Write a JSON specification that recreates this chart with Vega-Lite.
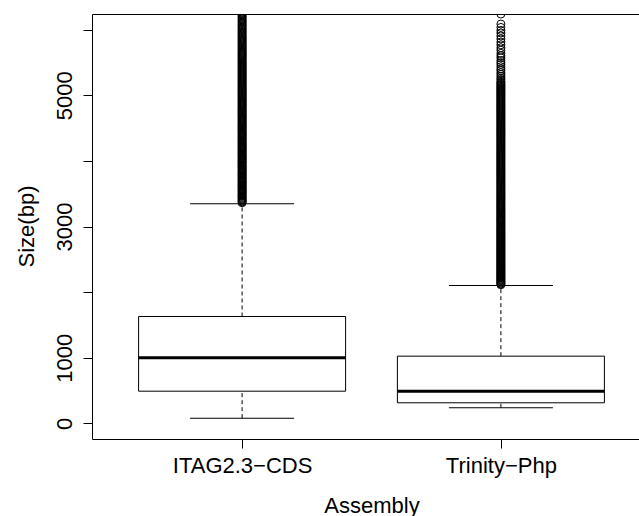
{
  "$schema": "https://vega.github.io/schema/vega-lite/v6.json",
  "autosize": "none",
  "width": 559,
  "height": 425,
  "padding": {"left": 92, "top": 14, "right": 0, "bottom": 77},
  "background": "white",
  "config": {
    "view": {"stroke": "black", "strokeWidth": 1},
    "font": "Liberation Sans",
    "axis": {
      "labelFont": "Liberation Sans",
      "titleFont": "Liberation Sans",
      "labelFontSize": 22,
      "titleFontSize": 22,
      "titleFontWeight": "normal",
      "labelColor": "black",
      "titleColor": "black",
      "tickColor": "black",
      "tickSize": 9,
      "domain": false,
      "grid": false,
      "labelFlush": false,
      "labelOverlap": false
    },
    "axisX": {"labelAngle": 0, "labelBaseline": "alphabetic", "labelPadding": 24, "titleBaseline": "alphabetic", "titleY": 73},
    "axisY": {"labelAngle": 270, "labelAlign": "center", "labelBaseline": "alphabetic", "labelPadding": 12, "titleAngle": 270, "titleAlign": "center", "titleBaseline": "alphabetic", "titleX": -59, "titleY": 212}
  },
  "datasets": {
    "stats": [
      {"g": "ITAG2.3−CDS", "lo": 78, "q1": 489, "med": 998, "q3": 1628, "hi": 3346},
      {"g": "Trinity−Php", "lo": 236, "q1": 312, "med": 489, "q3": 1023, "hi": 2100}
    ],
    "out": [
      {"g": "ITAG2.3−CDS", "v": [3362, 3375, 3388, 3401, 3417, 3430, 3444, 3459, 3471, 3486, 3500, 3513, 3528, 3540, 3556, 3569, 3583, 3597, 3610, 3625, 3638, 3652, 3667, 3680, 3694, 3708, 3722, 3736, 3749, 3764, 3778, 3791, 3806, 3819, 3833, 3848, 3861, 3875, 3890, 3903, 3917, 3931, 3945, 3960, 3973, 3987, 4001, 4015, 4030, 4043, 4057, 4072, 4085, 4100, 4113, 4128, 4142, 4155, 4170, 4184, 4198, 4212, 4226, 4240, 4255, 4268, 4283, 4297, 4310, 4325, 4339, 4353, 4367, 4381, 4396, 4410, 4424, 4438, 4452, 4466, 4481, 4495, 4509, 4523, 4538, 4552, 4566, 4580, 4595, 4609, 4623, 4638, 4652, 4666, 4680, 4695, 4709, 4723, 4738, 4752, 4766, 4781, 4795, 4810, 4825, 4839, 4853, 4868, 4882, 4897, 4911, 4926, 4940, 4955, 4970, 4984, 4999, 5013, 5028, 5043, 5057, 5072, 5087, 5101, 5116, 5131, 5146, 5161, 5175, 5190, 5205, 5220, 5235, 5250, 5265, 5280, 5296, 5311, 5326, 5341, 5356, 5372, 5387, 5402, 5418, 5433, 5449, 5464, 5480, 5495, 5511, 5527, 5542, 5558, 5574, 5590, 5606, 5622, 5638, 5654, 5670, 5686, 5702, 5719, 5735, 5751, 5768, 5784, 5801, 5817, 5834, 5851, 5868, 5885, 5902, 5919, 5936, 5954, 5971, 5989, 6006, 6024, 6042, 6060, 6078, 6096, 6115, 6133, 6152, 6171, 6190, 6209, 6228, 6248, 6268, 6290]},
      {"g": "Trinity−Php", "v": [2112, 2124, 2136, 2148, 2160, 2172, 2185, 2197, 2209, 2221, 2234, 2246, 2258, 2271, 2283, 2295, 2308, 2320, 2333, 2345, 2358, 2370, 2383, 2395, 2408, 2421, 2433, 2446, 2459, 2471, 2484, 2497, 2510, 2522, 2535, 2548, 2561, 2574, 2587, 2600, 2613, 2626, 2639, 2652, 2665, 2678, 2691, 2704, 2718, 2731, 2744, 2757, 2771, 2784, 2797, 2811, 2824, 2838, 2851, 2865, 2878, 2892, 2905, 2919, 2933, 2946, 2960, 2974, 2988, 3001, 3015, 3029, 3043, 3057, 3071, 3085, 3099, 3113, 3127, 3141, 3155, 3169, 3184, 3198, 3212, 3226, 3241, 3255, 3269, 3284, 3298, 3313, 3327, 3342, 3356, 3371, 3385, 3400, 3415, 3429, 3444, 3459, 3473, 3488, 3503, 3518, 3533, 3548, 3563, 3578, 3593, 3608, 3623, 3638, 3653, 3668, 3683, 3698, 3713, 3728, 3743, 3758, 3773, 3788, 3803, 3818, 3833, 3848, 3863, 3878, 3893, 3908, 3923, 3938, 3953, 3968, 3983, 3998, 4013, 4028, 4043, 4058, 4073, 4088, 4103, 4118, 4133, 4148, 4163, 4178, 4193, 4208, 4223, 4238, 4253, 4268, 4283, 4298, 4313, 4328, 4343, 4358, 4373, 4388, 4403, 4418, 4433, 4448, 4463, 4478, 4493, 4508, 4523, 4538, 4553, 4568, 4583, 4598, 4613, 4628, 4643, 4658, 4673, 4688, 4703, 4718, 4733, 4748, 4763, 4778, 4793, 4808, 4823, 4838, 4853, 4868, 4883, 4898, 4913, 4928, 4943, 4958, 4973, 4988, 5003, 5018, 5033, 5048, 5063, 5078, 5093, 5108, 5123, 5138, 5153, 5168, 5183, 5198, 5213, 5240, 5262, 5290, 5318, 5345, 5377, 5402, 5436, 5470, 5498, 5530, 5571, 5603, 5640, 5688, 5725, 5770, 5812, 5860, 5905, 5951, 5990, 6035, 6087, 6240]}
    ]
  },
  "encoding": {
    "x": {
      "field": "g", "type": "nominal",
      "scale": {"type": "point", "padding": 0.58, "domain": ["ITAG2.3−CDS", "Trinity−Php"]},
      "axis": {"title": "Assembly"}
    }
  },
  "layer": [
    {
      "data": {"name": "stats"},
      "mark": {"type": "rule", "color": "black", "strokeWidth": 1, "strokeDash": [4, 3]},
      "encoding": {
        "y": {"field": "q3", "type": "quantitative", "scale": {"domain": [-240, 6240], "nice": false, "zero": false},
              "axis": {"title": "Size(bp)", "format": "d", "values": [0, 1000, 2000, 3000, 4000, 5000, 6000], "labelExpr": "datum.value == 2000 || datum.value == 4000 || datum.value == 6000 ? '' : datum.label"}},
        "y2": {"field": "hi"}
      }
    },
    {
      "data": {"name": "stats"},
      "mark": {"type": "rule", "color": "black", "strokeWidth": 1, "strokeDash": [4, 3]},
      "encoding": {
        "y": {"field": "lo", "type": "quantitative", "title": "Size(bp)"},
        "y2": {"field": "q1"}
      }
    },
    {
      "data": {"name": "stats"},
      "mark": {"type": "tick", "color": "black", "opacity": 1, "size": 104, "thickness": 1},
      "encoding": {"y": {"field": "hi", "type": "quantitative", "title": "Size(bp)"}}
    },
    {
      "data": {"name": "stats"},
      "mark": {"type": "tick", "color": "black", "opacity": 1, "size": 104, "thickness": 1},
      "encoding": {"y": {"field": "lo", "type": "quantitative", "title": "Size(bp)"}}
    },
    {
      "data": {"name": "stats"},
      "mark": {"type": "bar", "fill": "white", "stroke": "black", "strokeWidth": 1, "opacity": 1, "size": 207},
      "encoding": {
        "y": {"field": "q1", "type": "quantitative", "title": "Size(bp)"},
        "y2": {"field": "q3"}
      }
    },
    {
      "data": {"name": "stats"},
      "mark": {"type": "tick", "color": "black", "opacity": 1, "size": 207, "thickness": 3},
      "encoding": {"y": {"field": "med", "type": "quantitative", "title": "Size(bp)"}}
    },
    {
      "data": {"name": "out"},
      "transform": [{"flatten": ["v"]}],
      "mark": {"type": "point", "shape": "circle", "filled": false, "stroke": "black", "strokeWidth": 1, "size": 64, "opacity": 1, "clip": true},
      "encoding": {"y": {"field": "v", "type": "quantitative", "title": "Size(bp)"}}
    }
  ]
}
